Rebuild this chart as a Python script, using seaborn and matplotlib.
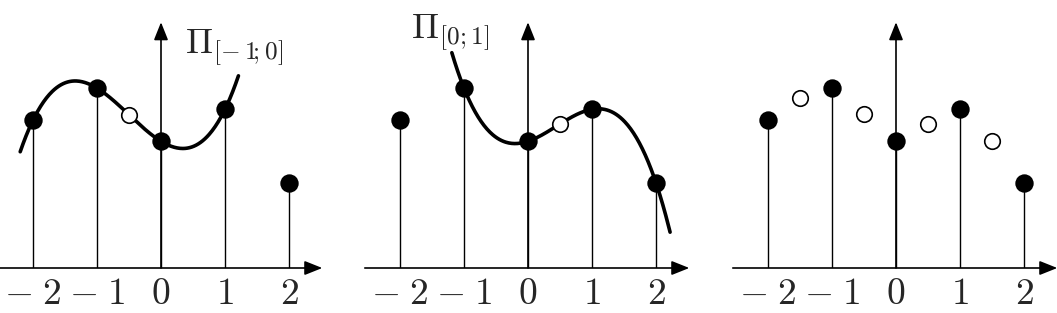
import numpy as np
import pandas as pd
import matplotlib
matplotlib.use("Agg")
import matplotlib.pyplot as plt
import seaborn as sns

# ---- data ----
node_x = [-2, -1, 0, 1, 2]
node_y = [2.31, 2.81, 1.98, 2.48, 1.33]
half_x = [-1.5, -0.5, 0.5, 1.5]
half_y = [2.66, 2.40, 2.25, 1.98]
tick_vals = [-2, -1, 0, 1, 2]
tick_labels = [r"$-\;2$", r"$-\;1$", r"$0$", r"$1$", r"$2$"]
panel_titles = [r"$\Pi_{[-\,1\!;0]}$", r"$\Pi_{[0;1]}$", ""]
# interpolation windows (node index ranges) and plotted curve spans
windows = [(0, 4), (1, 5), None]
curve_spans = [(-2.2, 1.21), (-1.19, 2.22), None]
open_pts = [[-0.5], [0.5], half_x]

sns.set_style("white")
plt.rcParams["mathtext.fontset"] = "cm"
plt.rcParams["font.family"] = ["DejaVu Serif"]

W, H = 1057, 313
fig = plt.figure(figsize=(W / 100, H / 100), dpi=100)
unit = 64.0
base_py = 268
zero_px = [161, 528, 896]
panel_edges = [(0, 352), (352, 704), (704, 1057)]
title_pos = [(0.37, 3.36), (-1.83, 3.59), None]

for i in range(3):
    x0, x1 = panel_edges[i]
    ax = fig.add_axes([x0 / W, (H - base_py) / H, (x1 - x0) / W, base_py / H])
    ax.set_xlim((x0 - zero_px[i]) / unit, (x1 - zero_px[i]) / unit)
    ax.set_ylim(0, base_py / unit)
    for s in ax.spines.values():
        s.set_visible(False)
    ax.set_yticks([])
    ax.set_xticks(tick_vals)
    ax.set_xticklabels(tick_labels, fontsize=27)
    ax.tick_params(axis="x", length=0, pad=6)
    ax.patch.set_alpha(0)

    # axes arrows
    ap = dict(arrowstyle="-|>,head_length=0.4,head_width=0.16", lw=1.2,
              color="black", mutation_scale=27, shrinkA=0, shrinkB=0)
    ax.annotate("", xy=(2.52, 0), xytext=(-2.55, 0), arrowprops=ap,
                annotation_clip=False)
    ax.annotate("", xy=(0, 3.84), xytext=(0, 0), arrowprops=ap,
                annotation_clip=False)

    # stems
    ax.vlines(node_x, 0, node_y, color="black", lw=1.0, zorder=2)

    # interpolation curve
    if windows[i] is not None:
        a, b = windows[i]
        coef = np.polyfit(node_x[a:b], node_y[a:b], 3)
        lo, hi = curve_spans[i]
        xx = np.linspace(lo, hi, 300)
        dfc = pd.DataFrame({"x": xx, "y": np.polyval(coef, xx)})
        sns.lineplot(data=dfc, x="x", y="y", ax=ax, color="black", lw=2.6,
                     sort=False, zorder=3)

    # open circles
    ox = open_pts[i]
    if i < 2:
        a, b = windows[i]
        coef = np.polyfit(node_x[a:b], node_y[a:b], 3)
        oy = list(np.polyval(coef, ox))
    else:
        oy = half_y
    sns.scatterplot(x=ox, y=oy, ax=ax, s=125, color="white", edgecolor="black",
                    linewidth=1.2, zorder=4)
    # filled nodes
    sns.scatterplot(x=node_x, y=node_y, ax=ax, s=175, color="black",
                    edgecolor="black", linewidth=0, zorder=5)

    if title_pos[i] is not None:
        tx, ty = title_pos[i]
        ax.text(tx, ty, panel_titles[i], fontsize=26, ha="left", va="baseline")

    ax.set_xlabel("")
    ax.set_ylabel("")

fig.savefig("out.png", dpi=100)
